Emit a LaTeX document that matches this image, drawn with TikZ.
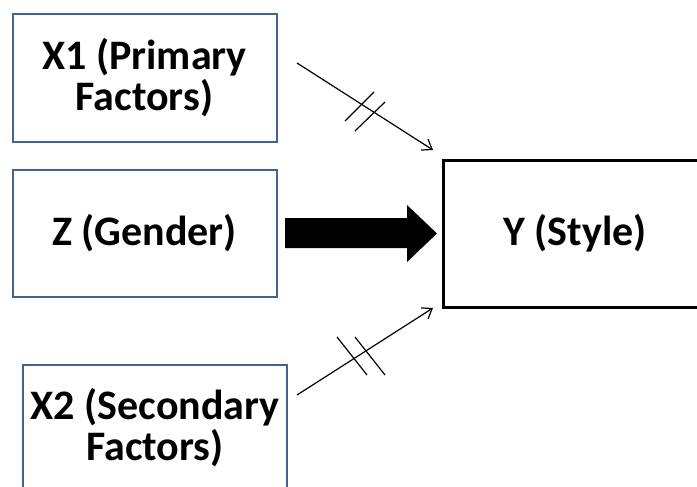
\documentclass[tikz,border=0pt]{standalone}
\usepackage{fontspec}
\setmainfont{Carlito}
\usetikzlibrary{arrows.meta}
\definecolor{boxblue}{RGB}{65,100,145}
\begin{document}
\begin{tikzpicture}[x=1pt,y=-1pt,
  factor/.style={draw=boxblue, line width=2pt, align=center, inner sep=0pt,
    font=\fontsize{42}{41}\selectfont\bfseries},
  outcome/.style={draw=black, line width=3pt, align=center, inner sep=0pt,
    font=\fontsize{42}{41}\selectfont\bfseries},
  link/.style={draw=black, line width=1.2pt, -{Straight Barb[length=9pt,width=13pt]}},
  hatch/.style={draw=black, line width=1.2pt}]
\useasboundingbox (0,0) rectangle (697,487);
\fill[white] (0,0) rectangle (697,487);
\clip (0,0) rectangle (697,487);
\node[factor, minimum width=264pt, minimum height=128pt] (x1) at (144.5,78) {X1 (Primary\\Factors)};
\node[factor, minimum width=264pt, minimum height=127pt] (z) at (144.5,233.5) {Z (Gender)};
\node[factor, minimum width=264pt, minimum height=126pt] (x2) at (155,428) {X2 (Secondary\\Factors)};
\node[outcome, minimum width=264pt, minimum height=147pt] (y) at (575,233.5) {Y (Style)};
% thin arrows
\coordinate (a1s) at (297,63);
\coordinate (a1e) at (433,150);
\coordinate (a2s) at (297,395);
\coordinate (a2e) at (433,308);
\draw[link] (a1s) -- (a1e);
\draw[link] (a2s) -- (a2e);
\draw[hatch] (345,121) -- (374,92);
\draw[hatch] (355,131) -- (385,102);
\draw[hatch] (337,337) -- (367,375);
\draw[hatch] (355,337) -- (385,375);
% thick arrow
\fill[black] (285,218) -- (407,218) -- (407,205) -- (437,233.5) -- (407,262) -- (407,248) -- (285,248) -- cycle;
\end{tikzpicture}
\end{document}
